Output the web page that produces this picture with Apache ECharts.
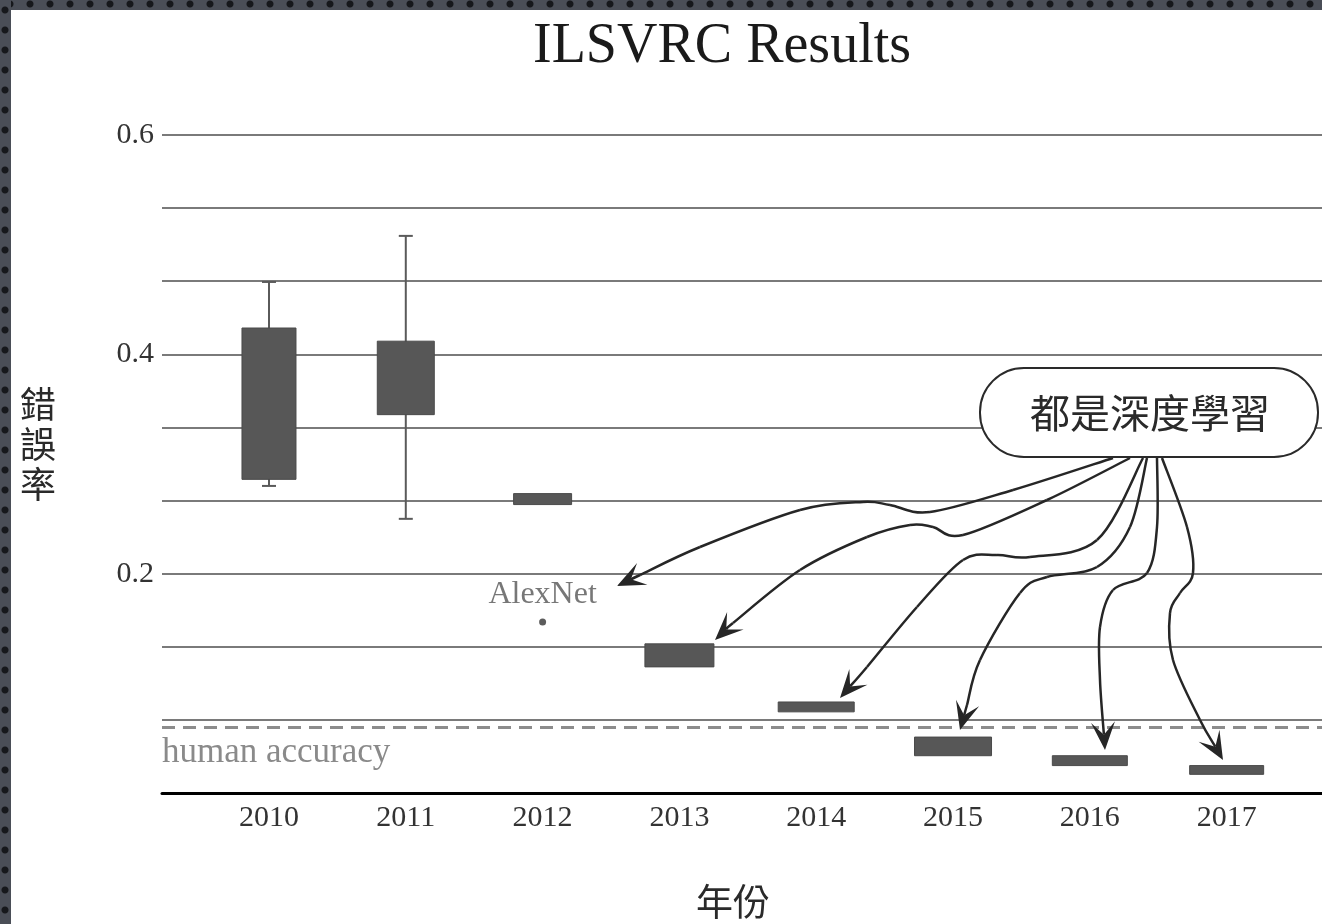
<!DOCTYPE html>
<html>
<head>
<meta charset="utf-8">
<title>ILSVRC Results</title>
<script src="https://cdn.jsdelivr.net/npm/echarts@6/dist/echarts.min.js"></script>
<style>
  html, body {
    margin: 0;
    padding: 0;
    background: #ffffff;
    overflow: hidden;
  }
  #chart {
    width: 1322px;
    height: 924px;
  }
  /* dotted slide frame, top and left */
  .frame {
    position: absolute;
    pointer-events: none;
    background: radial-gradient(circle, #16181c 3px, transparent 4px) 0 0 / 20px 20px, #4a4e57;
  }
  .frame.top { left: 0; top: 0; width: 1322px; height: 10px; background-position: 0 -6px; }
  .frame.left { left: 0; top: 0; width: 11px; height: 924px; background-position: -5px 0; }
</style>
</head>
<body>
<div id="chart"></div>
<div class="frame top"></div>
<div class="frame left"></div>

<script>
const years = [2010, 2011, 2012, 2013, 2014, 2015, 2016, 2017];
const boxLow = [0.286, 0.345, 0.263, 0.115, 0.074, 0.034, 0.025, 0.017];
const boxHigh = [0.424, 0.412, 0.273, 0.136, 0.083, 0.051, 0.034, 0.025];
const whiskerLow = [0.280, 0.250, '-', '-', '-', '-', '-', '-'];
const whiskerHigh = [0.466, 0.508, '-', '-', '-', '-', '-', '-'];
const alexNet = [2012, 0.156];
const humanAccuracy = 0.058;
const yTickLabels = ['0.2', '0.4', '0.6'];

// box widths in px (they differ a little in the original)
const boxWidths = [54, 57, 58, 69, 76, 77, 75, 74];

const serif = "'Liberation Serif', 'DejaVu Serif', serif";
const cjk = "'Noto Sans CJK TC', 'Noto Sans CJK SC', sans-serif";

const chart = echarts.init(document.getElementById('chart'));

function renderBox(params, api) {
  const i = params.dataIndex;
  const x = api.coord([api.value(0), 0])[0];
  const top = api.coord([api.value(0), api.value(2)])[1];
  const bottom = api.coord([api.value(0), api.value(1)])[1];
  const w = boxWidths[i];
  const children = [];
  const wl = api.value(3);
  const wh = api.value(4);
  if (!isNaN(wl) && !isNaN(wh)) {
    const y1 = api.coord([api.value(0), wh])[1];
    const y2 = api.coord([api.value(0), wl])[1];
    const lineStyle = { stroke: '#5a5a5a', lineWidth: 2 };
    children.push({ type: 'line', shape: { x1: x, y1: y1, x2: x, y2: y2 }, style: lineStyle });
    children.push({ type: 'line', shape: { x1: x - 7, y1: y1, x2: x + 7, y2: y1 }, style: lineStyle });
    children.push({ type: 'line', shape: { x1: x - 7, y1: y2, x2: x + 7, y2: y2 }, style: lineStyle });
  }
  children.push({
    type: 'rect',
    shape: { x: x - w / 2, y: top, width: w, height: bottom - top },
    style: { fill: '#575757', stroke: '#4a4a4a', lineWidth: 1 }
  });
  return { type: 'group', children: children };
}

// curved annotation arrows (pixel coordinates)
const arrowPaths = [
  [[1113, 458], [1013, 490], [930, 512], [890, 505], [863, 502], [800, 510], [700, 547], [640, 575], [617, 586]],
  [[1130, 458], [1047, 500], [963, 535], [933, 527], [910, 525], [867, 537], [800, 570], [733, 623], [715, 640]],
  [[1143, 458], [1097, 540], [1030, 557], [997, 555], [963, 560], [917, 607], [867, 667], [840, 698]],
  [[1147, 458], [1130, 527], [1097, 567], [1047, 577], [1020, 593], [980, 660], [967, 705], [960, 730]],
  [[1157, 458], [1157, 527], [1147, 573], [1113, 590], [1100, 627], [1100, 680], [1105, 750]],
  [[1162, 458], [1187, 527], [1193, 573], [1180, 593], [1170, 613], [1173, 660], [1200, 720], [1223, 760]]
];

function arrowHead(pts) {
  const tip = pts[pts.length - 1];
  const prev = pts[pts.length - 2];
  let dx = tip[0] - prev[0];
  let dy = tip[1] - prev[1];
  const len = Math.sqrt(dx * dx + dy * dy);
  dx /= len; dy /= len;
  const nx = -dy, ny = dx;
  const L = 28, W = 12;
  return [
    tip,
    [tip[0] - L * dx + W * nx, tip[1] - L * dy + W * ny],
    [tip[0] - 0.55 * L * dx, tip[1] - 0.55 * L * dy],
    [tip[0] - L * dx - W * nx, tip[1] - L * dy - W * ny]
  ];
}

// catmull-rom through the traced points, as bezier segments
function smoothSegments(pts) {
  const segs = [];
  for (let i = 0; i < pts.length - 1; i++) {
    const p0 = pts[Math.max(i - 1, 0)];
    const p1 = pts[i];
    const p2 = pts[i + 1];
    const p3 = pts[Math.min(i + 2, pts.length - 1)];
    segs.push({
      x1: p1[0], y1: p1[1], x2: p2[0], y2: p2[1],
      cpx1: p1[0] + (p2[0] - p0[0]) / 6, cpy1: p1[1] + (p2[1] - p0[1]) / 6,
      cpx2: p2[0] - (p3[0] - p1[0]) / 6, cpy2: p2[1] - (p3[1] - p1[1]) / 6
    });
  }
  return segs;
}

const arrowGraphics = [];
arrowPaths.forEach(function (pts) {
  const head = arrowHead(pts);
  const line = pts.slice(0, -1).concat([head[2]]);
  smoothSegments(line).forEach(function (seg) {
    arrowGraphics.push({
      type: 'bezierCurve',
      shape: seg,
      style: { stroke: '#262626', lineWidth: 2.5, fill: null },
      z: 20
    });
  });
  arrowGraphics.push({
    type: 'polygon',
    shape: { points: head },
    style: { fill: '#262626' },
    z: 21
  });
});

const option = {
  backgroundColor: '#ffffff',
  animation: false,
  title: {
    text: 'ILSVRC Results',
    left: 528,
    top: 14,
    textStyle: { fontFamily: serif, fontSize: 56, fontWeight: 'normal', color: '#1a1a1a' }
  },
  grid: { left: 162, right: 0, top: 135, bottom: 131, outerBoundsMode: 'none', containLabel: false },
  xAxis: {
    type: 'value',
    min: 2009.218,
    max: 2017.697,
    axisLine: { lineStyle: { color: '#000000', width: 3 } },
    axisTick: { show: false },
    splitLine: { show: false },
    axisLabel: {
      customValues: years,
      fontFamily: serif,
      fontSize: 30,
      color: '#333333',
      margin: 10,
      formatter: function (v) { return String(v); }
    }
  },
  yAxis: {
    type: 'value',
    min: 0,
    max: 0.6,
    interval: 1 / 15,
    axisLine: { show: false },
    axisTick: { show: false },
    splitLine: { lineStyle: { color: '#7a7a7a', width: 2 } },
    axisLabel: {
      fontFamily: serif,
      fontSize: 30,
      color: '#333333',
      margin: 8,
      formatter: function (v) {
        const s = v.toFixed(1);
        return (Math.abs(v * 5 - Math.round(v * 5)) < 1e-6 && yTickLabels.indexOf(s) >= 0) ? s : '';
      }
    }
  },
  series: [
    {
      type: 'custom',
      renderItem: renderBox,
      clip: false,
      encode: { x: 0, y: [1, 2, 3, 4] },
      data: years.map(function (y, i) {
        return [y, boxLow[i], boxHigh[i], whiskerLow[i], whiskerHigh[i]];
      }),
      z: 5,
      markLine: {
        silent: true,
        symbol: 'none',
        lineStyle: { type: [13, 8], color: '#8c8c8c', width: 3 },
        label: {
          show: true,
          position: 'insideStartBottom',
          formatter: 'human accuracy',
          fontFamily: serif,
          fontSize: 35,
          color: '#8a8a8a',
          distance: [0, 8]
        },
        data: [{ yAxis: humanAccuracy }]
      }
    },
    {
      type: 'scatter',
      data: [alexNet],
      symbol: 'circle',
      symbolSize: 7,
      itemStyle: { color: '#333333' },
      label: {
        show: true,
        position: 'top',
        distance: 8,
        formatter: 'AlexNet',
        fontFamily: serif,
        fontSize: 32,
        color: '#555555'
      },
      z: 6
    }
  ],
  graphic: [
    {
      type: 'text',
      left: 20,
      top: 384,
      style: {
        text: '錯\n誤\n率',
        fontFamily: cjk,
        fontSize: 36,
        lineHeight: 40,
        fill: '#2a2a2a'
      }
    },
    {
      type: 'text',
      x: 733,
      y: 902,
      style: {
        text: '年份',
        fontFamily: cjk,
        fontSize: 37,
        fill: '#2a2a2a',
        align: 'center',
        verticalAlign: 'middle'
      }
    },
    {
      type: 'rect',
      shape: { x: 980, y: 368, width: 338, height: 89, r: 44 },
      style: { fill: '#ffffff', stroke: '#2a2a2a', lineWidth: 2 },
      z: 22
    },
    {
      type: 'text',
      x: 1150,
      y: 413,
      style: {
        text: '都是深度學習',
        fontFamily: cjk,
        fontSize: 40,
        fill: '#2a2a2a',
        align: 'center',
        verticalAlign: 'middle'
      },
      z: 23
    }
  ].concat(arrowGraphics)
};

chart.setOption(option);
</script>
</body>
</html>
